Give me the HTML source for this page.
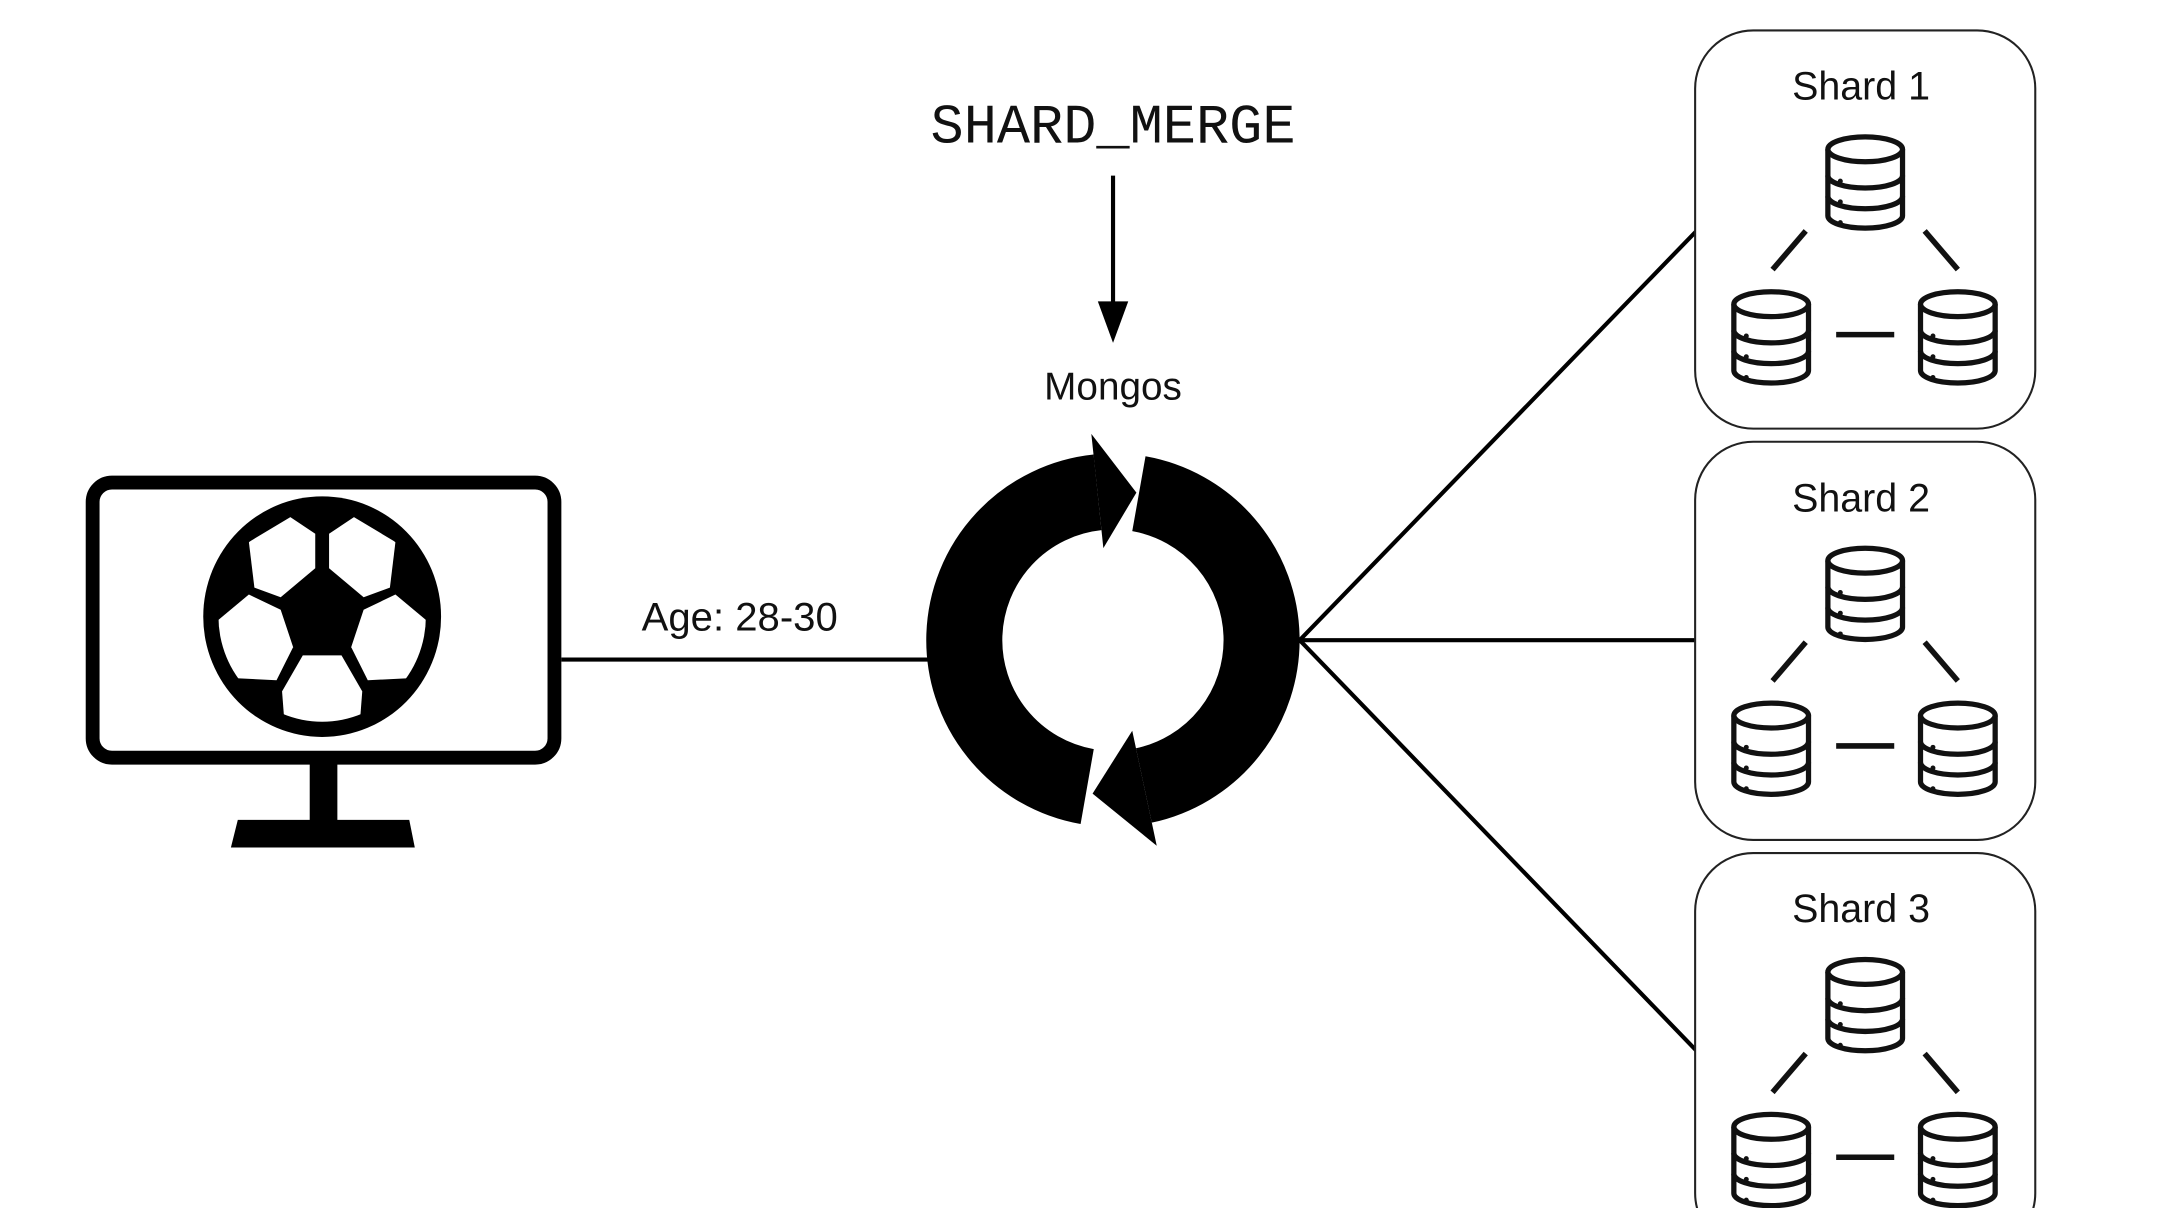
<!DOCTYPE html>
<html><head><meta charset="utf-8"><style>html,body{margin:0;padding:0;background:#fff}svg{display:block}</style></head>
<body>
<svg width="2168" height="1208" viewBox="0 0 1568 873.7" preserveAspectRatio="none" xmlns="http://www.w3.org/2000/svg">
<defs>
<g id="db" fill="none" stroke="#111" stroke-width="3.8">
<path d="M-27,-24 L-27,24 A27,9 0 0 0 27,24 L27,-24"/>
<ellipse cx="0" cy="-24" rx="27" ry="9" fill="#fff"/>
<path d="M-27,-5 A27,9 0 0 0 27,-5"/>
<path d="M-27,10 A27,9 0 0 0 27,10"/>
<circle cx="-18" cy="-1" r="1.8" fill="#111" stroke="none"/>
<circle cx="-18" cy="14" r="1.8" fill="#111" stroke="none"/>
<circle cx="-18" cy="29" r="1.8" fill="#111" stroke="none"/>
</g>
<g id="shard">
<rect x="1226" y="22" width="246" height="288" rx="42" fill="#fff" stroke="#222" stroke-width="1.5"/>
<use href="#db" x="1349" y="132"/>
<use href="#db" x="1281" y="244"/>
<use href="#db" x="1416" y="244"/>
<g stroke="#111" stroke-width="4">
<line x1="1306" y1="167" x2="1282" y2="195"/>
<line x1="1392" y1="167" x2="1416" y2="195"/>
<line x1="1328" y1="242" x2="1370" y2="242"/>
</g>
</g>
<clipPath id="ballclip"><ellipse cx="233" cy="446" rx="75" ry="76"/></clipPath>
</defs>

<!-- monitor -->
<rect x="67" y="349" width="334" height="199" rx="14" fill="none" stroke="#000" stroke-width="10"/>
<rect x="224" y="550" width="20" height="45" fill="#000"/>
<polygon points="172,593 296,593 300,613 167,613" fill="#000"/>
<!-- ball -->
<ellipse cx="233" cy="446" rx="86" ry="87" fill="#000"/>
<g fill="#fff" clip-path="url(#ballclip)">
<polygon points="228,411 228,386 210,374 180,392 184,425 203,432"/>
<polygon points="238,411 238,386 256,374 286,392 282,425 263,432"/>
<polygon points="180,430 203,441 212,468 200,492 160,490 150,455"/>
<polygon points="286,430 263,441 254,468 266,492 306,490 316,455"/>
<polygon points="219,474 247,474 262,500 260,526 233,532 206,526 204,500"/>
</g>

<!-- connectors -->
<line x1="406" y1="477" x2="672" y2="477" stroke="#000" stroke-width="3"/>
<text x="535" y="456" font-family="Liberation Sans, sans-serif" font-size="29" text-anchor="middle" fill="#111">Age: 28-30</text>
<g stroke="#000" stroke-width="3">
<line x1="940" y1="463" x2="1227" y2="167"/>
<line x1="940" y1="463" x2="1227" y2="463"/>
<line x1="940" y1="463" x2="1227" y2="760"/>
</g>

<!-- mongos -->
<path d="M786.3,568.9 A107.5,107.5 0 0 1 793.8,356.1" fill="none" stroke="#000" stroke-width="55"/>
<polygon points="798,396.4 789.3,313.8 821.9,356.3" fill="#000"/>
<path d="M823.7,357.1 A107.5,107.5 0 0 1 827.3,568.1" fill="none" stroke="#000" stroke-width="55"/>
<polygon points="818.9,528.5 836.6,611.7 790.2,574" fill="#000"/>

<text x="805" y="103" font-family="Liberation Mono, monospace" font-size="40" text-anchor="middle" fill="#111">SHARD_MERGE</text>
<line x1="805" y1="127" x2="805" y2="222" stroke="#000" stroke-width="3"/>
<polygon points="794,218 816,218 805,248" fill="#000"/>
<text x="805" y="289" font-family="Liberation Sans, sans-serif" font-size="28" text-anchor="middle" fill="#111">Mongos</text>

<!-- shards -->
<use href="#shard"/>
<use href="#shard" y="297.5"/>
<use href="#shard" y="595"/>
<g font-family="Liberation Sans, sans-serif" font-size="28.5" text-anchor="middle" fill="#111">
<text x="1346" y="72">Shard 1</text>
<text x="1346" y="370">Shard 2</text>
<text x="1346" y="667">Shard 3</text>
</g>
</svg>
</body></html>
